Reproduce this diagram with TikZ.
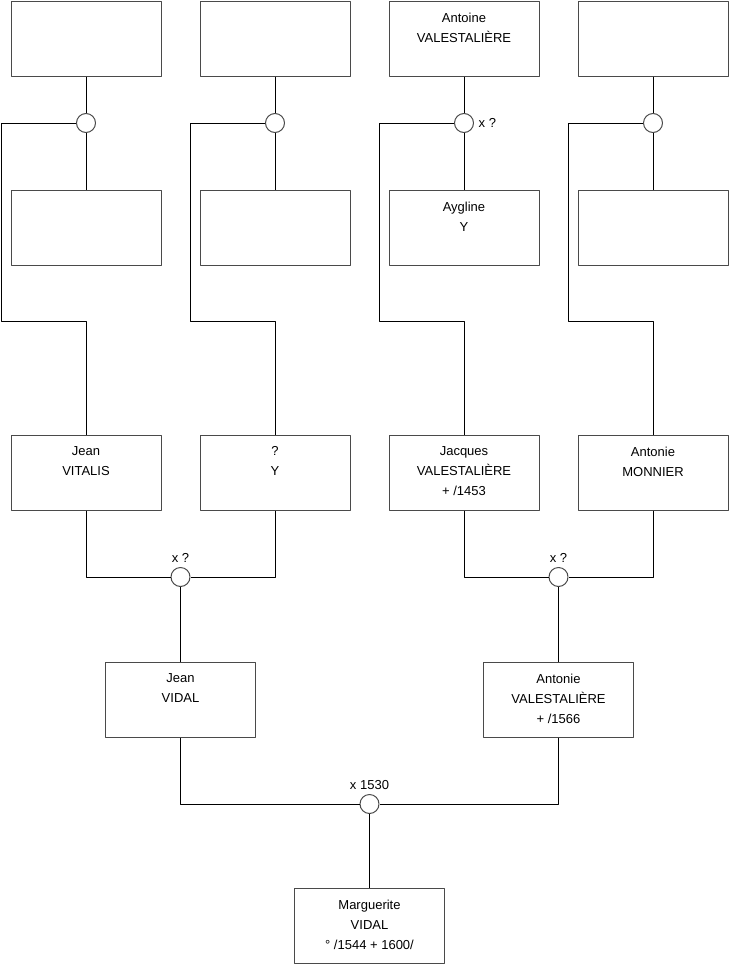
\documentclass[tikz,border=0pt]{standalone}
\usepackage{fontspec}
\setmainfont{Liberation Sans}
\usetikzlibrary{arrows.meta}
\definecolor{boxgray}{HTML}{4A4A4A}
\tikzset{
  every picture/.style={
    font=\fontsize{9.75}{15}\selectfont,
    line join=round,
  },
  person/.style={draw=boxgray, line width=0.75pt, minimum width=112.5pt, minimum height=56.25pt, inner sep=0pt},
  who/.style={anchor=north, align=center, inner sep=0pt, yshift=-9pt},
  union/.style={circle, draw=boxgray, line width=0.75pt, fill=white, minimum size=14.25pt, inner sep=0pt},
  link/.style={line width=0.75pt, black},
}

\begin{document}
\begin{tikzpicture}[x=0.75pt, y=-0.75pt]
    \useasboundingbox (0,0) rectangle (740,975);

    % Parents of Jean VIDAL and Antonie VALESTALIERE
    \foreach \i/\x/\txt in {1/86/{Jean\\VITALIS}, 2/275/{?\\Y},
                            3/464/{Jacques\\VALESTALIÈRE\\+ /1453}, 4/653/{Antonie\\MONNIER}} {
        \node[person, label={[who]north:\txt}] (p\i) at (\x,472.5) {};
    }

    % Top generation: couples above each parent
    \foreach \i/\x/\dad/\mum/\note in {1/86/{}/{}/{}, 2/275/{}/{}/{},
                                     3/464/{Antoine\\VALESTALIÈRE}/{Aygline\\Y}/{x ?}, 4/653/{}/{}/{}} {
        \node[person, label={[who]north:\dad}] (f\i) at (\x,38.5) {};
        \node[person, label={[who]north:\mum}] (w\i) at (\x,227.5) {};
        \node[union, label=right:\note] (m\i) at (\x,123) {};
        \draw[link] (f\i) -- (m\i) -- (w\i);
        \draw[link] (m\i.west) -| (\x-85,321) -| (p\i.north);
    }

    % Grandparents
    \node[union, label=above:{x ?}] (c1) at (180.5,577) {};
    \node[union, label=above:{x ?}] (c2) at (558.5,577) {};
    \draw[link] (p1.south) |- (c1.west);
    \draw[link] (p2.south) |- (c1.east);
    \draw[link] (p3.south) |- (c2.west);
    \draw[link] (p4.south) |- (c2.east);

    \node[person, label={[who]north:{Jean\\VIDAL}}] (g1) at (180.5,699.5) {};
    \node[person, label={[who]north:{Antonie\\VALESTALIÈRE\\+ /1566}}] (g2) at (558.5,699.5) {};
    \draw[link] (c1) -- (g1);
    \draw[link] (c2) -- (g2);

    % Marriage and child
    \node[union, label=above:{x 1530}] (c0) at (369.5,804) {};
    \draw[link] (g1.south) |- (c0.west);
    \draw[link] (g2.south) |- (c0.east);

    \node[person, label={[who]north:{Marguerite\\VIDAL\\° /1544 + 1600/}}] (root) at (369.5,926) {};
    \draw[link] (c0) -- (root);
\end{tikzpicture}
\end{document}
